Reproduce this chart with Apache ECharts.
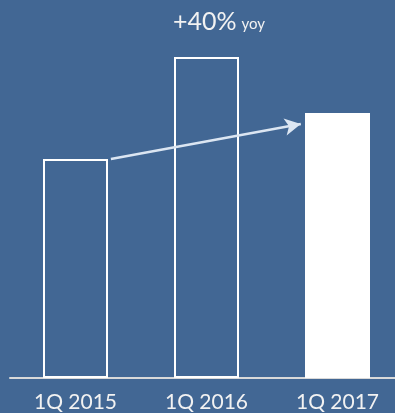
<!DOCTYPE html>
<html><head><meta charset="utf-8">
<script src="https://cdn.jsdelivr.net/npm/echarts@6/dist/echarts.min.js"></script>
<style>html,body{margin:0;padding:0;background:#426794;overflow:hidden;}#c{width:403px;height:413px;}</style>
</head><body><div id="c"></div>
<script>
const categories = ['1Q 2015', '1Q 2016', '1Q 2017'];
const values = [2.19, 3.21, 2.65];
const filled = [false, false, true];
const growthLabel = '+40%';
const growthSuffix = 'yoy';
// arrow from top-right of first bar to left side of last bar (x in category units on a 0..3 scale)
const arrowStart = [0.77, 2.19];
const arrowEnd = [2.22, 2.54];

const chart = echarts.init(document.getElementById('c'), null, {renderer: 'canvas'});
chart.setOption({
  backgroundColor: '#426794',
  animation: false,
  title: {
    text: '{a|' + growthLabel + '} {b|' + growthSuffix + '}',
    left: 168, top: 4,
    textStyle: {
      fontWeight: 'normal',
      rich: {
        a: {fontFamily: 'Lato', fontSize: 25, fontWeight: 'normal', color: '#f2f2f2'},
        b: {fontFamily: 'Lato', fontSize: 15, fontWeight: 'normal', color: '#f2f2f2', padding: [6, 0, 0, 0]}
      }
    }
  },
  grid: {left: 10, top: 0, right: 0, bottom: 35},
  xAxis: [{
    type: 'category', data: categories,
    axisLine: {lineStyle: {color: '#d9d9d9', width: 2}},
    axisTick: {show: false},
    axisLabel: {color: '#f2f2f2', fontFamily: 'Lato', fontSize: 21, margin: 14}
  }, {
    type: 'value', min: 0, max: 3, show: false
  }],
  yAxis: {type: 'value', min: 0, max: 3.78, show: false, splitLine: {show: false}},
  series: [{
    type: 'bar', barWidth: 65, xAxisIndex: 0,
    data: values.map((v, i) => ({
      value: v,
      itemStyle: {color: filled[i] ? '#ffffff' : 'rgba(0,0,0,0)', borderColor: '#ffffff', borderWidth: 2}
    }))
  }, {
    type: 'line', xAxisIndex: 1, symbol: 'none',
    lineStyle: {width: 0, opacity: 0},
    data: [arrowStart, arrowEnd],
    markLine: {
      silent: true,
      symbol: ['none', 'arrow'],
      symbolSize: [13, 16],
      label: {show: false},
      lineStyle: {color: '#dce6f2', width: 2.5, type: 'solid'},
      data: [[{coord: arrowStart}, {coord: arrowEnd}]]
    }
  }]
});
</script></body></html>
